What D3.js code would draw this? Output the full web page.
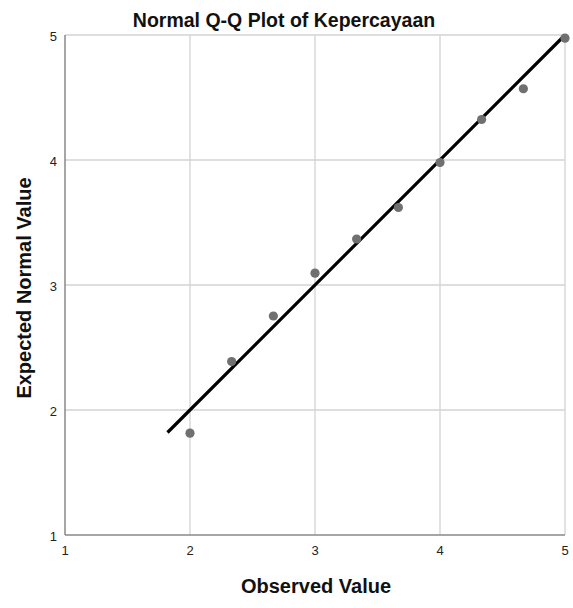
<!DOCTYPE html>
<html>
<head>
<meta charset="UTF-8" />
<title>Normal Q-Q Plot of Kepercayaan</title>
<style>
  body { margin: 0; background: #fff; }
  svg { display: block; font-family: Arial, "Liberation Sans", sans-serif; }
  .grid line { stroke: #d3d3d3; stroke-width: 1.3; }
  .tick-label { font-size: 13px; fill: #222; }
  .axis-title { font-size: 20px; font-weight: bold; fill: #111; }
</style>
</head>
<body>
<svg width="573" height="608"></svg>
<script src="https://d3js.org/d3.v7.min.js"></script>
<script>
  // observed values and their expected normal values
  const observed = [2, 2.333, 2.667, 3, 3.333, 3.667, 4, 4.333, 4.667, 5];
  const expected = [1.815, 2.388, 2.752, 3.095, 3.368, 3.62, 3.98, 4.324, 4.57, 4.975];
  const ticks = [1, 2, 3, 4, 5];
  const refLine = [1.82, 5]; // y = x reference line

  const svg = d3.select("svg");
  const plotLeft = 65, plotRight = 565, plotTop = 35, plotBottom = 535;

  const x = d3.scaleLinear().domain([1, 5]).range([plotLeft, plotRight]);
  const y = d3.scaleLinear().domain([1, 5]).range([plotBottom, plotTop]);

  // grid lines
  const grid = svg.append("g").attr("class", "grid");
  grid.selectAll(".gx").data(ticks.slice(1)).join("line")
    .attr("class", "gx")
    .attr("x1", d => x(d)).attr("x2", d => x(d))
    .attr("y1", plotTop).attr("y2", plotBottom);
  grid.selectAll(".gy").data(ticks.slice(1)).join("line")
    .attr("class", "gy")
    .attr("x1", plotLeft).attr("x2", plotRight)
    .attr("y1", d => y(d)).attr("y2", d => y(d));

  // axis lines
  svg.append("line").attr("x1", plotLeft).attr("x2", plotLeft).attr("y1", plotTop).attr("y2", plotBottom)
    .attr("stroke", "#888").attr("stroke-width", 1.5);
  svg.append("line").attr("x1", plotLeft).attr("x2", plotRight).attr("y1", plotBottom).attr("y2", plotBottom)
    .attr("stroke", "#888").attr("stroke-width", 1.5);

  // tick labels
  svg.selectAll(".xl").data(ticks).join("text")
    .attr("class", "tick-label xl")
    .attr("x", d => x(d)).attr("y", plotBottom + 20)
    .attr("text-anchor", "middle").text(d => d);
  svg.selectAll(".yl").data(ticks).join("text")
    .attr("class", "tick-label yl")
    .attr("x", plotLeft - 8).attr("y", d => y(d) + 6)
    .attr("text-anchor", "end").text(d => d);

  // reference line
  svg.append("line")
    .attr("x1", x(refLine[0])).attr("y1", y(refLine[0]))
    .attr("x2", x(refLine[1])).attr("y2", y(refLine[1]))
    .attr("stroke", "#000").attr("stroke-width", 3.2);

  // points
  svg.selectAll("circle").data(observed).join("circle")
    .attr("cx", d => x(d)).attr("cy", (d, i) => y(expected[i]))
    .attr("r", 4.6).attr("fill", "#707070");

  // titles
  svg.append("text").attr("class", "axis-title")
    .attr("x", 284).attr("y", 27).attr("text-anchor", "middle")
    .style("font-size", "19.5px")
    .text("Normal Q-Q Plot of Kepercayaan");
  svg.append("text").attr("class", "axis-title")
    .attr("x", 316).attr("y", 593).attr("text-anchor", "middle")
    .text("Observed Value");
  svg.append("text").attr("class", "axis-title")
    .attr("transform", `translate(31, 288) rotate(-90)`)
    .attr("text-anchor", "middle")
    .text("Expected Normal Value");
</script>
</body>
</html>
